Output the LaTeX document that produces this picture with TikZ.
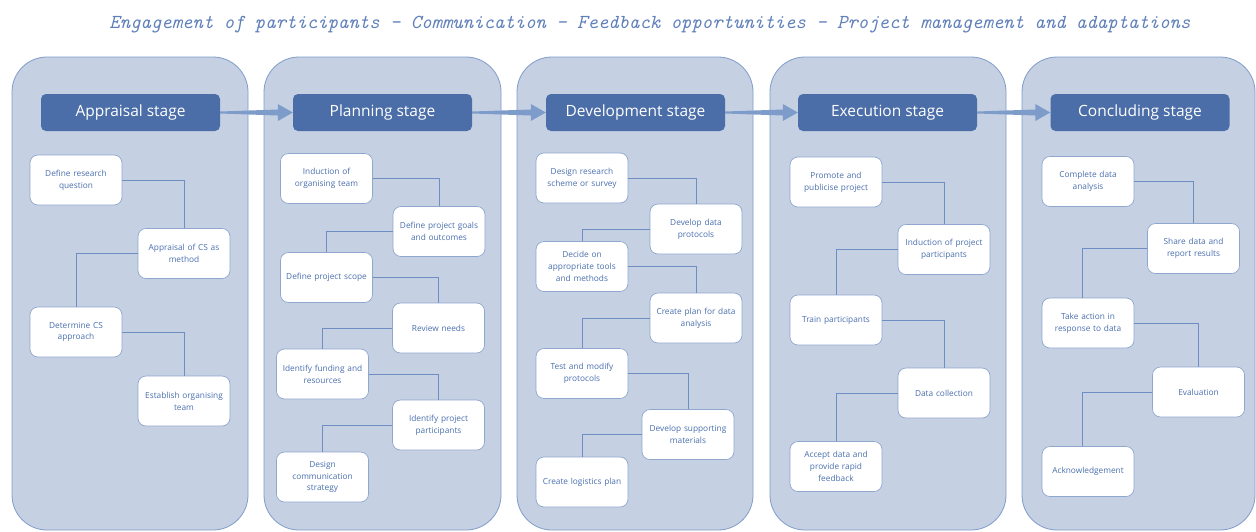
\documentclass[tikz,border=0pt]{standalone}
\usepackage{fontspec}
\usetikzlibrary{calc}
\newfontfamily\boxfont{Open Sans}

\definecolor{panelfill}{HTML}{C5D0E3}
\definecolor{panelline}{HTML}{7F9CCA}
\definecolor{headfill}{HTML}{4B6EA8}
\definecolor{boxline}{HTML}{8FA7CF}
\definecolor{textblue}{HTML}{4A6FAE}
\definecolor{linkcol}{HTML}{6E8EC3}
\definecolor{arrowcol}{HTML}{7E9CCA}
\definecolor{titlecol}{HTML}{5F80BA}

\tikzset{
  panel/.style={draw=panelline, line width=0.8pt, fill=panelfill,
    rounded corners=35pt, minimum height=473pt, inner sep=0pt},
  stagehead/.style={fill=headfill, rounded corners=5pt, minimum width=179pt,
    minimum height=37pt, inner sep=0pt, text=white,
    font=\boxfont\fontsize{15.5}{18}\selectfont},
  taskbox/.style={draw=boxline, line width=0.7pt, fill=white, rounded corners=8pt,
    minimum width=92pt, minimum height=50pt, inner sep=0pt, align=center,
    text width=90pt, text=textblue, font=\boxfont\fontsize{8.3}{11.8}\selectfont},
  link/.style={draw=linkcol, line width=0.8pt},
}

% tapered block arrow between two stage headers
\newcommand{\stagearrow}[2]{%
  \fill[arrowcol] ($(#1.east)+(0,1)$) -- ($(#2.west)+(-15,3)$) -- ($(#2.west)+(-15,8.5)$)
    -- (#2.west) -- ($(#2.west)+(-15,-8.5)$) -- ($(#2.west)+(-15,-3)$)
    -- ($(#1.east)+(0,-1)$) -- cycle;}

\begin{document}
\begin{tikzpicture}[x=1pt, y=-1pt]
\useasboundingbox (0,0) rectangle (1256,531);
\fill[white] (0,0) rectangle (1256,531);

% headline across the stages
\node (title) [anchor=base, text=titlecol, draw=titlecol, draw opacity=0, line width=0pt,
  font=\ttfamily\itshape\fontsize{19.8}{24}\selectfont] at (650,28)
  {Engagement of participants - Communication - Feedback opportunities - Project management and adaptations};

% stage panels
\node (p1) [panel, minimum width=236pt] at (130,293.5) {};
\node (p2) [panel, minimum width=237pt] at (382.5,293.5) {};
\node (p3) [panel, minimum width=236pt] at (635,293.5) {};
\node (p4) [panel, minimum width=236pt] at (888,293.5) {};
\node (p5) [panel, minimum width=233pt] at (1138.5,293.5) {};

% stage headers
\node (h1) [stagehead] at (130.5,112.5) {Appraisal stage};
\node (h2) [stagehead] at (382.5,112.5) {Planning stage};
\node (h3) [stagehead] at (635.5,112.5) {Development stage};
\node (h4) [stagehead] at (887.5,112.5) {Execution stage};
\node (h5) [stagehead] at (1140,112.5) {Concluding stage};

\stagearrow{h1}{h2}
\stagearrow{h2}{h3}
\stagearrow{h3}{h4}
\stagearrow{h4}{h5}

% Appraisal stage
\node (a1) [taskbox] at (76,180) {Define research\\question};
\node (a2) [taskbox] at (184,253.5) {Appraisal of CS as\\method};
\node (a3) [taskbox] at (76,332) {Determine CS\\approach};
\node (a4) [taskbox] at (184,401) {Establish organising\\team};
\draw[link] (a1.east) -| (a2.north);
\draw[link] (a2.west) -| (a3.north);
\draw[link] (a3.east) -| (a4.north);

% Planning stage
\node (b1) [taskbox] at (326.5,178.5) {Induction of\\organising team};
\node (b2) [taskbox] at (439,231.5) {Define project goals\\and outcomes};
\node (b3) [taskbox] at (326.5,277.5) {Define project scope};
\node (b4) [taskbox] at (438.5,328) {Review needs};
\node (b5) [taskbox] at (322.5,374) {Identify funding and\\resources};
\node (b6) [taskbox] at (438.5,425) {Identify project\\participants};
\node (b7) [taskbox] at (322.5,477) {Design\\communication\\strategy};
\draw[link] (b1.east) -| (b2.north);
\draw[link] (b2.west) -| (b3.north);
\draw[link] (b3.east) -| (b4.north);
\draw[link] (b4.west) -| (b5.north);
\draw[link] (b5.east) -| (b6.north);
\draw[link] (b6.west) -| (b7.north);

% Development stage
\node (c1) [taskbox] at (582,178) {Design research\\scheme or survey};
\node (c2) [taskbox] at (696,229) {Develop data\\protocols};
\node (c3) [taskbox] at (582,266.5) {Decide on\\appropriate tools\\and methods};
\node (c4) [taskbox] at (696,318) {Create plan for data\\analysis};
\node (c5) [taskbox] at (582,373.5) {Test and modify\\protocols};
\node (c6) [taskbox] at (688,434.5) {Develop supporting\\materials};
\node (c7) [taskbox] at (582,482) {Create logistics plan};
\draw[link] (c1.east) -| (c2.north);
\draw[link] (c2.west) -| (c3.north);
\draw[link] (c3.east) -| (c4.north);
\draw[link] (c4.west) -| (c5.north);
\draw[link] (c5.east) -| (c6.north);
\draw[link] (c6.west) -| (c7.north);

% Execution stage
\node (d1) [taskbox] at (836,182) {Promote and\\publicise project};
\node (d2) [taskbox] at (944,249.5) {Induction of project\\participants};
\node (d3) [taskbox] at (836,320) {Train participants};
\node (d4) [taskbox] at (944,393) {Data collection};
\node (d5) [taskbox] at (836,466.5) {Accept data and\\provide rapid\\feedback};
\draw[link] (d1.east) -| (d2.north);
\draw[link] (d2.west) -| (d3.north);
\draw[link] (d3.east) -| (d4.north);
\draw[link] (d4.west) -| (d5.north);

% Concluding stage
\node (e1) [taskbox] at (1088,181.5) {Complete data\\analysis};
\node (e2) [taskbox] at (1193.5,248.5) {Share data and\\report results};
\node (e3) [taskbox] at (1088,323) {Take action in\\response to data};
\node (e4) [taskbox] at (1198.5,392) {Evaluation};
\node (e5) [taskbox] at (1088,471.5) {Acknowledgement};
\draw[link] (e1.east) -| (e2.north);
\draw[link] (e2.west) -| ([xshift=-6pt]e3.north);
\draw[link] (e3.east) -| (e4.north);
\draw[link] (e4.west) -| ([xshift=-6pt]e5.north);
\end{tikzpicture}
\end{document}
